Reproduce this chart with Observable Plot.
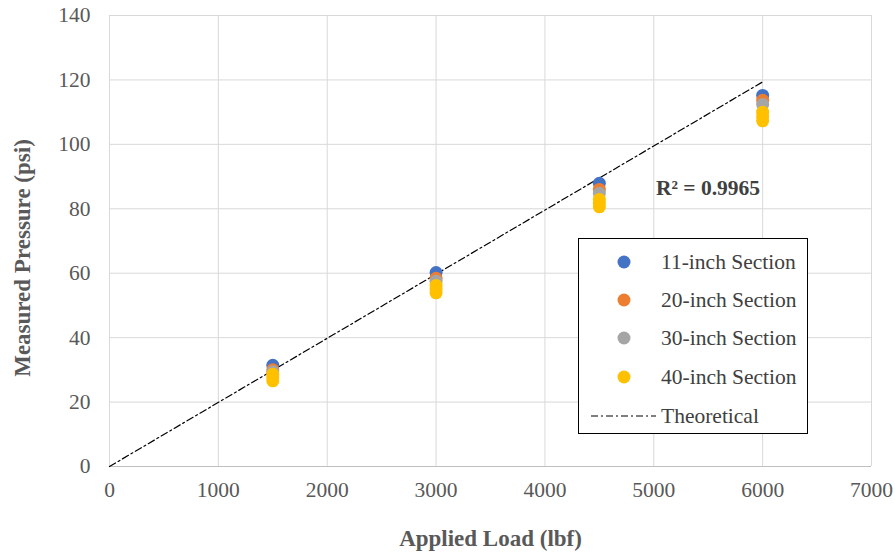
<!DOCTYPE html>
<html>
<head>
<meta charset="utf-8">
<script src="https://cdn.jsdelivr.net/npm/d3@7"></script>
<script src="https://cdn.jsdelivr.net/npm/@observablehq/plot@0.6"></script>
<style>
  body { margin: 0; background: #fff; }
  #wrap { position: relative; width: 895px; height: 556px; font-family: "Liberation Serif", "Times New Roman", serif; }
  #legend { position: absolute; left: 578px; top: 238px; width: 230px; height: 196px; border: 1px solid #000; background: #fff; box-sizing: border-box; }
  .row { position: absolute; left: 0; height: 26px; display: flex; align-items: center; font-family: "Liberation Serif", "Times New Roman", serif; font-size: 21.5px; color: #404040; white-space: nowrap; }
  .row svg { display: block; }
</style>
</head>
<body>
<div id="wrap"></div>
<script>
const loads = [1500, 3000, 4500, 6000];
const series = ["11-inch Section", "20-inch Section", "30-inch Section", "40-inch Section"];
const colors = ["#4472C4", "#ED7D31", "#A5A5A5", "#FFC000"];
const p11 = [31.4, 60.2, 87.9, 115.2];
const p20 = [30.0, 58.4, 86.0, 113.7];
const p30 = [29.4, 57.5, 84.8, 112.4];
const p40a = [28.6, 56.2, 82.9, 110.0];
const p40b = [27.6, 55.0, 81.7, 108.6];
const p40c = [26.6, 53.9, 80.6, 107.3];
const theoLoad = [0, 6000];
const theoPressure = [0, 119.4];
const xTicks = [0, 1000, 2000, 3000, 4000, 5000, 6000, 7000];
const yTicks = [0, 20, 40, 60, 80, 100, 120, 140];
const r2Label = "R² = 0.9965";
const r2Pos = {x: 5020, y: 86.5};

const pts = [];
[[p11, 0], [p20, 1], [p30, 2], [p40a, 3], [p40b, 3], [p40c, 3]].forEach(([arr, s]) => {
  arr.forEach((v, i) => pts.push({load: loads[i], p: v, s}));
});
const theo = theoLoad.map((l, i) => ({load: l, p: theoPressure[i]}));

const chart = Plot.plot({
  width: 895, height: 556,
  marginLeft: 109, marginRight: 24, marginTop: 15, marginBottom: 90,
  style: {fontFamily: "Liberation Serif", fontSize: "21.5px", color: "#595959", background: "#fff"},
  x: {domain: [0, 7000]},
  y: {domain: [0, 140]},
  marks: [
    Plot.gridX(xTicks, {stroke: "#d9d9d9", strokeOpacity: 1}),
    Plot.gridY(yTicks, {stroke: "#d9d9d9", strokeOpacity: 1}),
    Plot.ruleY([0], {stroke: "#bfbfbf"}),
    Plot.line(theo, {x: "load", y: "p", stroke: "#000", strokeWidth: 1.2, strokeDasharray: "7,3,2,3"}),
    ...[0, 1, 2, 3].map(s => Plot.dot(pts.filter(d => d.s === s), {x: "load", y: "p", r: 6.5, fill: colors[s], stroke: "none"})),
    Plot.text([r2Pos], {x: "x", y: "y", text: () => r2Label, textAnchor: "start", fontWeight: "bold", fontSize: 21.5, fill: "#404040"}),
    Plot.axisX({ticks: xTicks, tickFormat: d => String(d), tickSize: 0, tickPadding: 15, label: "Applied Load (lbf)", labelAnchor: "center", labelArrow: "none", labelOffset: 79, fontSize: 21.5}),
    Plot.axisY({ticks: yTicks, tickFormat: d => String(d), tickSize: 0, tickPadding: 19, label: "Measured Pressure (psi)", labelAnchor: "center", labelArrow: "none", labelOffset: 96, fontSize: 21.5})
  ]
});
chart.querySelectorAll("g[aria-label='x-axis label'], g[aria-label='y-axis label']").forEach(g => {
  g.setAttribute("font-weight", "bold");
  g.setAttribute("font-size", "23");
  g.querySelectorAll("text").forEach(t => { t.setAttribute("font-weight", "bold"); t.setAttribute("font-size", "23"); });
});
const yl = chart.querySelector("g[aria-label='y-axis label']");
if (yl) yl.setAttribute("transform", (yl.getAttribute("transform") || "") + " translate(0,17)");
document.getElementById("wrap").appendChild(chart);

// Legend
const legend = document.createElement("div");
legend.id = "legend";
const rowsY = [10, 48, 86, 125, 164];
series.forEach((name, i) => {
  const row = document.createElement("div");
  row.className = "row";
  row.style.top = rowsY[i] + "px";
  row.innerHTML = `<svg width="82" height="26"><circle cx="45" cy="13" r="6.5" fill="${colors[i]}"/></svg><span>${name}</span>`;
  legend.appendChild(row);
});
const trow = document.createElement("div");
trow.className = "row";
trow.style.top = rowsY[4] + "px";
trow.innerHTML = `<svg width="82" height="26"><line x1="12" x2="77" y1="13" y2="13" stroke="#000" stroke-width="1.2" stroke-dasharray="7,3,2,3"/></svg><span>Theoretical</span>`;
legend.appendChild(trow);
document.getElementById("wrap").appendChild(legend);
</script>
</body>
</html>
